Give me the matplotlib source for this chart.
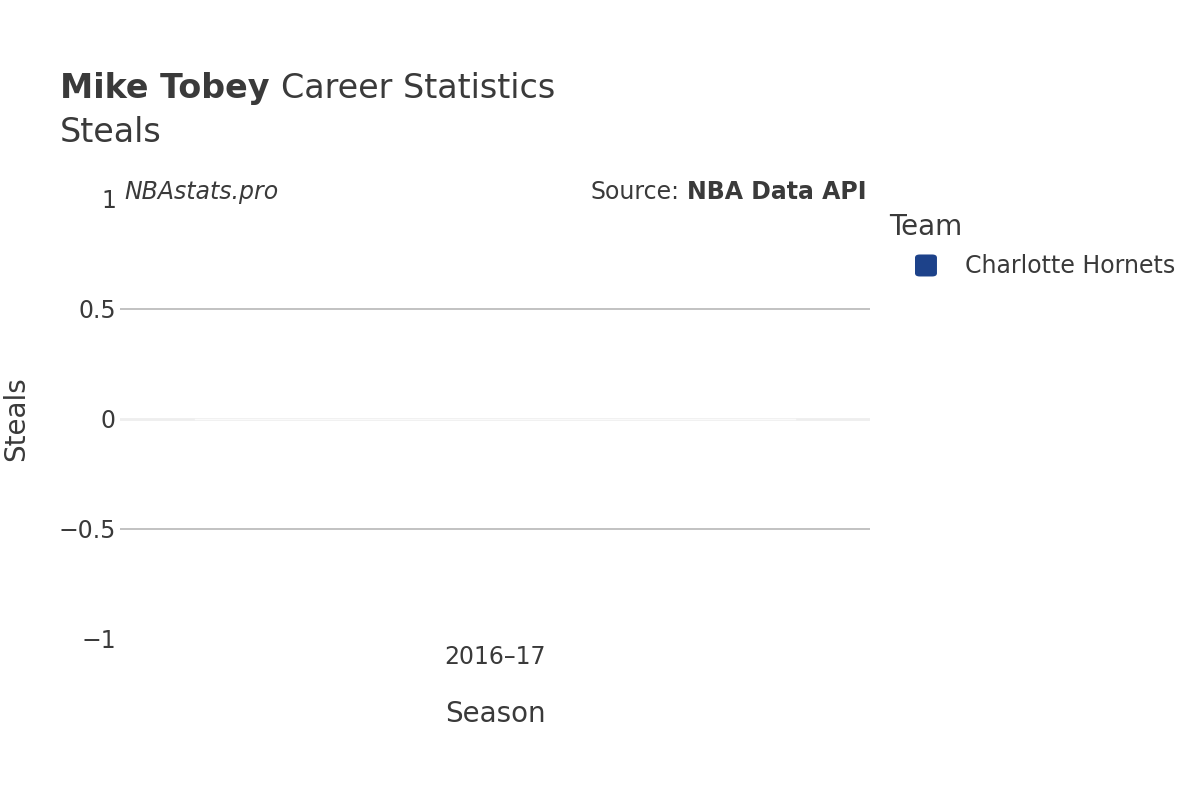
import matplotlib
matplotlib.use("Agg")
import matplotlib.pyplot as plt
from matplotlib.patches import FancyBboxPatch

# data
seasons = ["2016–17"]
steals = [0.0]
team = "Charlotte Hornets"
team_color = "#1d428a"
y_ticks = [-1, -0.5, 0, 0.5, 1]
y_tick_labels = ["−1", "−0.5", "0", "0.5", "1"]

plt.rcParams['font.family'] = ['DejaVu Sans']
text_color = "#3a3a3a"

fig = plt.figure(figsize=(12, 8), dpi=100)
ax = fig.add_axes([0.1, 0.20125, 0.625, 0.55])

x = list(range(len(seasons)))
ax.bar(x, steals, width=0.8, color=team_color, zorder=3)
ax.set_xlim(-0.5, len(seasons) - 0.5)
ax.set_ylim(-1, 1)

ax.set_yticks(y_ticks)
ax.set_yticklabels(y_tick_labels)
ax.set_xticks(x)
ax.set_xticklabels(seasons)
for s in ax.spines.values():
    s.set_visible(False)
ax.tick_params(axis='both', length=0, labelsize=17, labelcolor=text_color)
ax.tick_params(axis='y', pad=3)
ax.tick_params(axis='x', pad=4)
for yv in [-0.5, 0.5]:
    ax.axhline(yv, color="#bdbdbd", linewidth=1.3, zorder=1)
ax.axhline(0, color="#eeeeee", linewidth=2, zorder=2)
ax.axhline(0, color="#fafafa", linewidth=1, zorder=4, xmin=0.1, xmax=0.9)

ax.set_xlabel("Season", fontsize=20, color=text_color)
ax.xaxis.set_label_coords(0.5, -0.138)
ax.set_ylabel("Steals", fontsize=20, color=text_color)
ax.yaxis.set_label_coords(-0.12, 0.5)

# title with bold name
renderer = fig.canvas.get_renderer()
t1 = fig.text(0.05, 0.889, "Mike Tobey", fontsize=24, fontweight='bold',
              color=text_color, va='center')
bb = t1.get_window_extent(renderer=renderer)
fig.text(bb.x1 / fig.bbox.width + 0.0095, 0.889, "Career Statistics", fontsize=24,
         color=text_color, va='center')
fig.text(0.05, 0.834, "Steals", fontsize=24, color=text_color, va='center')

# watermark and source
fig.text(0.104, 0.76, "NBAstats.pro", fontsize=17, style='italic',
         color=text_color, va='center')
t2 = fig.text(0.722, 0.76, "NBA Data API", fontsize=17, fontweight='bold',
              color=text_color, va='center', ha='right')
bb2 = t2.get_window_extent(renderer=renderer)
fig.text(bb2.x0 / fig.bbox.width - 0.006, 0.76, "Source:", fontsize=17,
         color=text_color, va='center', ha='right')

# legend
fig.text(0.741, 0.716, "Team", fontsize=20, color=text_color, va='center')
fig.patches.append(FancyBboxPatch((0.7625, 0.6544), 0.0183, 0.0275,
                                  boxstyle="round,pad=0,rounding_size=0.004",
                                  transform=fig.transFigure, facecolor=team_color,
                                  edgecolor='none', figure=fig))
fig.text(0.804, 0.667, team, fontsize=17, color=text_color, va='center')

fig.savefig("out.png", dpi=100, facecolor='white')
